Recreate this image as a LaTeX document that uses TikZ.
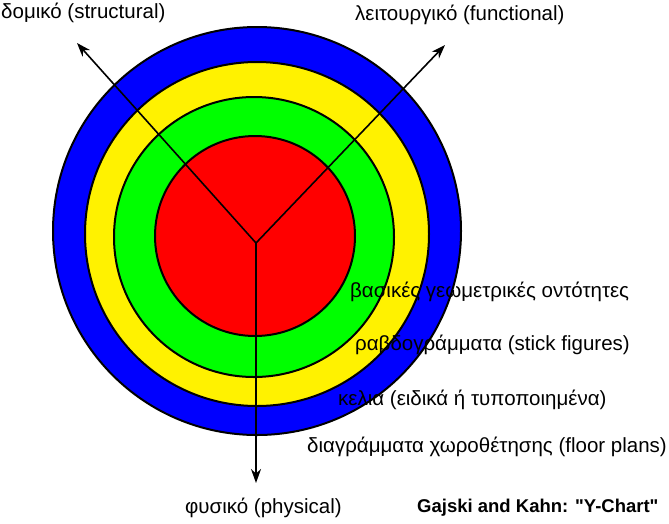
\documentclass[tikz,border=0pt]{standalone}
\usepackage{fontspec}
\setmainfont{Liberation Sans}
\usetikzlibrary{arrows.meta}
\begin{document}
\begin{tikzpicture}[x=1pt, y=-1pt,
    ring/.style={draw, line width=2pt},
    axis/.style={line width=1.6pt, -{Stealth[length=14pt, width=10pt]}},
    lbl/.style={anchor=west, inner sep=0pt, font=\fontsize{20.5}{24}\selectfont}]
  \useasboundingbox (0,0) rectangle (669,523);
  % levels of abstraction
  \draw[ring, fill=blue] (257,231) circle[radius=204pt];
  \draw[ring, fill=yellow] (257,234) circle[radius=172pt];
  \draw[ring, fill=green] (254,237) circle[radius=140pt];
  \draw[ring, fill=red] (255,236) circle[radius=100pt];
  % the three axes
  \coordinate (O) at (256,243);
  \coordinate (S) at (77,43);
  \coordinate (F) at (445,45);
  \coordinate (P) at (256,483);
  \draw[axis] (O) -- (S);
  \draw[axis] (O) -- (F);
  \draw[axis] (O) -- (P);
  \node[lbl] (structural) at (1,13) {δομικό (structural)};
  \node[lbl] (functional) at (355,15) {λειτουργικό (functional)};
  \node[lbl] (physical) at (185,508) {φυσικό (physical)};
  \node[lbl] (geom) at (350,292) {βασικές γεωμετρικές οντότητες};
  \node[lbl] (stick) at (355,345) {ραβδογράμματα (stick figures)};
  \node[lbl] (cells) at (338,400) {κελια (ειδικά ή τυποποιημένα)};
  \node[lbl] (floor) at (307,447) {διαγράμματα χωροθέτησης (floor plans)};
  \node[lbl, font=\fontsize{18.5}{22}\selectfont\bfseries] (title) at (417,508) {Gajski and Kahn: \textquotedbl Y-Chart\textquotedbl};
\end{tikzpicture}
\end{document}
